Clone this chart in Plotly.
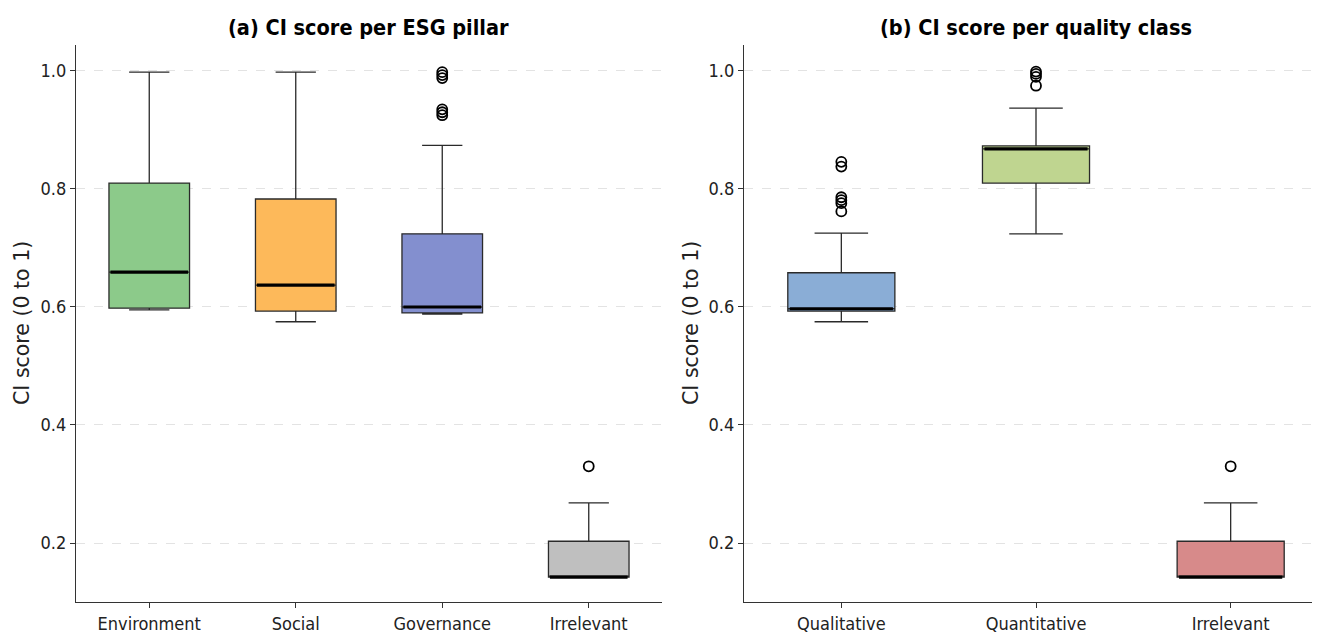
import plotly.graph_objects as go

# ---- data ----
pillar_cats = ["Environment", "Social", "Governance", "Irrelevant"]
pillar_q1 = [0.598, 0.593, 0.590, 0.142]
pillar_med = [0.659, 0.637, 0.600, 0.142]
pillar_q3 = [0.810, 0.783, 0.724, 0.203]
pillar_lo = [0.595, 0.575, 0.588, 0.142]
pillar_hi = [0.998, 0.998, 0.874, 0.268]
pillar_out = [[], [], [0.998, 0.993, 0.988, 0.935, 0.930, 0.925], [0.330]]
pillar_colors = ["#8cca8a", "#fdb95a", "#838fcf", "#bfbfbf"]

quality_cats = ["Qualitative", "Quantitative", "Irrelevant"]
quality_q1 = [0.593, 0.810, 0.142]
quality_med = [0.597, 0.868, 0.142]
quality_q3 = [0.658, 0.873, 0.203]
quality_lo = [0.575, 0.724, 0.142]
quality_hi = [0.725, 0.937, 0.268]
quality_out = [[0.846, 0.838, 0.786, 0.781, 0.776, 0.762], [0.999, 0.995, 0.990, 0.975], [0.330]]
quality_colors = ["#8aadd6", "#bfd590", "#d78a8a"]

titles = ["(a) CI score per ESG pillar", "(b) CI score per quality class"]
y_title = "CI score (0 to 1)"
y_ticks = [0.2, 0.4, 0.6, 0.8, 1.0]
y_ticktext = ["0.2", "0.4", "0.6", "0.8", "1.0"]

BOXW = 0.55
FONT = "DejaVu Sans Condensed, Liberation Sans Narrow, DejaVu Sans"

fig = go.Figure()


def add_panel(cats, q1, med, q3, lo, hi, outs, colors, xa, ya):
    for i, c in enumerate(cats):
        fig.add_trace(go.Box(
            x=[i], q1=[q1[i]], median=[med[i]], q3=[q3[i]],
            lowerfence=[lo[i]], upperfence=[hi[i]],
            width=BOXW, whiskerwidth=0.5, fillcolor=colors[i],
            line=dict(color="#2a2a2a", width=1.3),
            boxpoints=False, hoverinfo="skip", name=c,
            xaxis=xa, yaxis=ya, showlegend=False,
        ))
        # thick black median line
        fig.add_trace(go.Scatter(
            x=[i - BOXW / 2 + 0.01, i + BOXW / 2 - 0.01], y=[med[i], med[i]],
            mode="lines", line=dict(color="black", width=3.2),
            xaxis=xa, yaxis=ya, showlegend=False, hoverinfo="skip",
        ))
        if outs[i]:
            fig.add_trace(go.Scatter(
                x=[i] * len(outs[i]), y=outs[i], mode="markers",
                marker=dict(symbol="circle-open", size=10, color="black",
                            line=dict(width=1.8, color="black")),
                xaxis=xa, yaxis=ya, showlegend=False, hoverinfo="skip",
            ))


add_panel(pillar_cats, pillar_q1, pillar_med, pillar_q3, pillar_lo, pillar_hi,
          pillar_out, pillar_colors, "x", "y")
add_panel(quality_cats, quality_q1, quality_med, quality_q3, quality_lo, quality_hi,
          quality_out, quality_colors, "x2", "y2")

W, H = 1320, 632
O = 8  # page body margin offset


def px(v):
    return (v - O) / W


def py(v):
    return (H - (v - O)) / H


ydom = [py(602), py(45)]
x1dom = [px(76), px(662)]
x2dom = [px(744), 1.0]

axis_common = dict(showline=True, linecolor="#333", linewidth=1.2, ticks="outside",
                   ticklen=5, tickwidth=1.1, tickcolor="#333", zeroline=False,
                   tickfont=dict(family=FONT, size=18, color="#222"))

yaxis_common = dict(axis_common, range=[0.1, 1.044], tickvals=y_ticks, ticktext=y_ticktext,
                    showgrid=True, gridcolor="#e3e3e3", griddash="dash", gridwidth=1)

fig.update_layout(
    width=W, height=H, margin=dict(l=0, r=0, t=0, b=0),
    paper_bgcolor="white", plot_bgcolor="white",
    xaxis=dict(axis_common, domain=x1dom, range=[-0.5, 3.5], tickvals=list(range(len(pillar_cats))),
               ticktext=pillar_cats, showgrid=False, anchor="y"),
    yaxis=dict(yaxis_common, domain=ydom, anchor="x"),
    xaxis2=dict(axis_common, domain=x2dom, range=[-0.5, 2.5], tickvals=list(range(len(quality_cats))),
                ticktext=quality_cats, showgrid=False, anchor="y2"),
    yaxis2=dict(yaxis_common, domain=ydom, anchor="x2"),
    showlegend=False,
)

# panel titles centred over their axes
for t, cx in zip(titles, [368, 1036]):
    fig.add_annotation(text="<b>" + t + "</b>", xref="paper", yref="paper",
                       x=px(cx), y=py(27), showarrow=False, xanchor="center", yanchor="middle",
                       font=dict(family=FONT, size=21.5, color="black"))

# y-axis titles
for cx in [22, 691]:
    fig.add_annotation(text=y_title, xref="paper", yref="paper", textangle=-90,
                       x=px(cx), y=py(323), showarrow=False, xanchor="center", yanchor="middle",
                       font=dict(family="DejaVu Sans", size=20.5, color="#222"))

fig.write_html("out.html")
